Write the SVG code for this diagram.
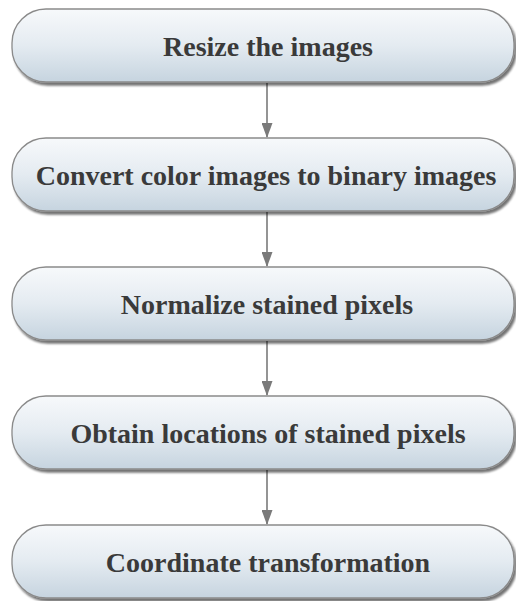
<svg xmlns="http://www.w3.org/2000/svg" width="516" height="601" viewBox="0 0 516 601">
<defs>
<linearGradient id="g" x1="0" y1="0" x2="0" y2="1">
<stop offset="0" stop-color="#f7f9fb"/>
<stop offset="0.5" stop-color="#e4ebf1"/>
<stop offset="1" stop-color="#c6d4df"/>
</linearGradient>
<filter id="sh" x="-5%" y="-10%" width="110%" height="130%">
<feGaussianBlur in="SourceAlpha" stdDeviation="1.2"/>
<feOffset dx="1.5" dy="2.5" result="b"/>
<feComponentTransfer><feFuncA type="linear" slope="0.55"/></feComponentTransfer>
<feMerge><feMergeNode/><feMergeNode in="SourceGraphic"/></feMerge>
</filter>
<marker id="ah" markerWidth="15" markerHeight="11" refX="14" refY="5.5" orient="auto" markerUnits="userSpaceOnUse" viewBox="0 0 15 11">
<path d="M0,0 L15,5.5 L0,11 Z" fill="#7a7a7a"/>
</marker>
</defs>
<style>
.box{fill:url(#g);stroke:#8a8a8a;stroke-width:1.3;filter:url(#sh)}
.t{font-weight:bold;font-size:28px;fill:#3a3a3a;text-anchor:middle}
.c{stroke:#7a7a7a;stroke-width:1.6;fill:none;marker-end:url(#ah)}
</style>
<rect width="516" height="601" fill="#ffffff"/>
<g id="connectors">
<line class="c" x1="267" y1="83" x2="267" y2="137"/>
<line class="c" x1="267" y1="212" x2="267" y2="266"/>
<line class="c" x1="267" y1="341" x2="267" y2="395"/>
<line class="c" x1="267" y1="470" x2="267" y2="524"/>
</g>
<g font-family="Liberation Serif, DejaVu Serif, Times New Roman, serif">
<g id="n1"><rect class="box" x="12" y="9" width="502" height="73" rx="34"/><text class="t" x="268" y="56">Resize the images</text></g>
<g id="n2"><rect class="box" x="12" y="138" width="502" height="73" rx="34"/><text class="t" x="266" y="185">Convert color images to binary images</text></g>
<g id="n3"><rect class="box" x="12" y="267" width="502" height="73" rx="34"/><text class="t" x="267" y="314">Normalize stained pixels</text></g>
<g id="n4"><rect class="box" x="12" y="396" width="502" height="73" rx="34"/><text class="t" x="268" y="443">Obtain locations of stained pixels</text></g>
<g id="n5"><rect class="box" x="12" y="525" width="502" height="73" rx="34"/><text class="t" x="268" y="572">Coordinate transformation</text></g>
</g>
</svg>
